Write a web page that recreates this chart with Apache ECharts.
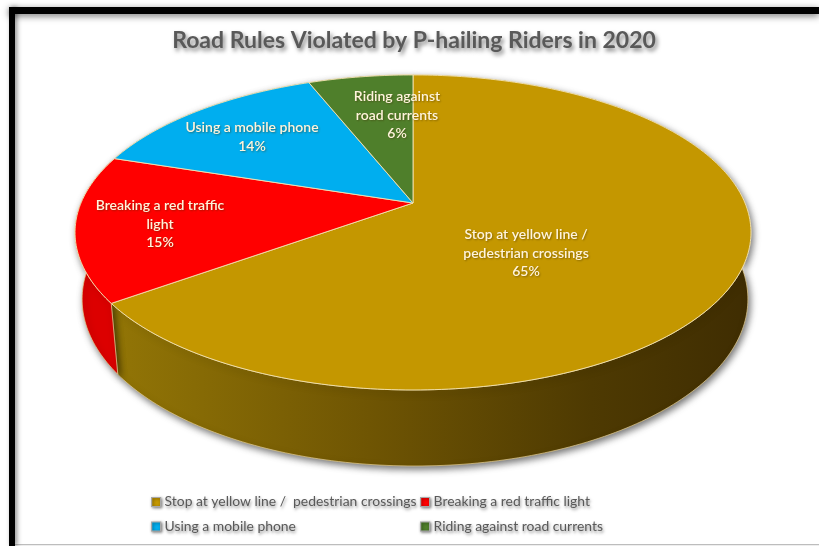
<!DOCTYPE html>
<html>
<head>
<meta charset="utf-8">
<style>html,body{margin:0;padding:0;background:#fff}#chart{width:819px;height:546px}</style>
<script src="https://cdn.jsdelivr.net/npm/echarts@6/dist/echarts.min.js"></script>
</head>
<body>
<div id="chart"></div>
<script>
// Violation shares, clockwise from twelve o'clock
const categories = ['Stop at yellow line /  pedestrian crossings', 'Breaking a red traffic light', 'Using a mobile phone', 'Riding against road currents'];
const shares = [65, 15, 14, 6];
const labelLines = [
  ['Stop at yellow line /', 'pedestrian crossings'],
  ['Breaking a red traffic', 'light'],
  ['Using a mobile phone'],
  ['Riding against', 'road currents']
];

const topColors = ['#c49700', '#ff0000', '#00aeef', '#4f7f2b'];
const labelCentres = [[526, 253], [160, 224], [252, 137], [397, 115]];
const font = 'Lato, "Open Sans", sans-serif';

// Tilted disc: a unit circle projected so that its centre lands off the ellipse centre
const apex = [413, 203];
const spanX = 332, spanY = 152, perspective = -0.187;
function rim(turn) {
  const a = turn * 2 * Math.PI;
  const u = Math.sin(a), v = -Math.cos(a), w = 1 + perspective * v;
  return [apex[0] + spanX * u / w, apex[1] + spanY * v / w];
}
// Lower rim of the disc's thickness
function lower(p) {
  return [apex[0] + 2 + 0.985 * (p[0] - apex[0]), apex[1] + 65 + 1.059 * (p[1] - apex[1])];
}
function arc(from, to) {
  const n = Math.max(4, Math.ceil((to - from) * 360));
  const pts = [];
  for (let i = 0; i <= n; i++) pts.push(rim(from + (to - from) * i / n));
  return pts;
}

const total = shares.reduce((s, v) => s + v, 0);
const starts = shares.map((_, i) => shares.slice(0, i).reduce((s, v) => s + v, 0) / total);

function wallFill(index) {
  if (index === 0) {
    return new echarts.graphic.LinearGradient(115, 0, 750, 0, [
      { offset: 0, color: '#927506' },
      { offset: 0.4, color: '#6f5503' },
      { offset: 0.75, color: '#4e3a02' },
      { offset: 1, color: '#3f2d02' }
    ], true);
  }
  return ['', '#dc0000', '#0090c8', '#3c6220'][index];
}

function renderSlice(index) {
  return function (params, api) {
    const from = starts[index];
    const to = from + api.value(0) / total;
    const edge = arc(from, to);
    const wall = edge.concat(edge.map(lower).reverse());
    const centre = labelCentres[index];
    const text = labelLines[index].concat(api.value(0) + '%').join('\n');
    return {
      type: 'group',
      silent: true,
      children: [
        {
          type: 'polygon', z2: 1,
          shape: { points: wall },
          style: {
            fill: wallFill(index), stroke: '#e6cf8e', lineWidth: 0.7,
            shadowBlur: 7, shadowColor: 'rgba(0,0,0,0.55)', shadowOffsetX: 2, shadowOffsetY: 3
          }
        },
        {
          type: 'polygon', z2: 5 + index,
          shape: { points: [apex].concat(edge) },
          style: { fill: api.visual('color'), stroke: '#f3e3b4', lineWidth: 0.9 }
        },
        {
          type: 'text', z2: 20,
          x: centre[0], y: centre[1],
          style: {
            text: text, fill: '#fff4dc', font: '600 14px ' + font,
            align: 'center', verticalAlign: 'middle', lineHeight: 18.5,
            textShadowColor: 'rgba(60,40,0,0.45)', textShadowBlur: 2, textShadowOffsetX: 1, textShadowOffsetY: 1
          }
        }
      ]
    };
  };
}

const legendBase = {
  orient: 'vertical', itemWidth: 9, itemHeight: 9, itemGap: 10.5, padding: 0,
  icon: 'rect', selectedMode: false,
  itemStyle: { borderColor: '#a8a8a8', borderWidth: 1.2, shadowBlur: 3, shadowColor: 'rgba(0,0,0,0.5)', shadowOffsetX: 1, shadowOffsetY: 1 },
  textStyle: {
    color: '#595959', fontFamily: font, fontSize: 13.9, padding: [0, 0, 0, -1],
    textShadowColor: 'rgba(0,0,0,0.45)', textShadowBlur: 3, textShadowOffsetX: 1, textShadowOffsetY: 2
  }
};

const chart = echarts.init(document.getElementById('chart'), null, { renderer: 'canvas' });
chart.setOption({
  animation: false,
  backgroundColor: '#ffffff',
  title: {
    text: 'Road Rules Violated by P-hailing Riders in 2020',
    left: 414, top: 29, textAlign: 'center', padding: 0,
    textStyle: {
      color: '#595959', fontFamily: font, fontWeight: 'bold', fontSize: 23,
      textShadowColor: 'rgba(0,0,0,0.5)', textShadowBlur: 4, textShadowOffsetX: 2, textShadowOffsetY: 3
    }
  },
  legend: [
    Object.assign({}, legendBase, { left: 151, top: 495, data: [categories[0], categories[2]] }),
    Object.assign({}, legendBase, { left: 420, top: 495, data: [categories[1], categories[3]] })
  ],
  // Chart-area frame: heavy top and left rules with a soft inner shadow
  graphic: [
    { type: 'rect', silent: true, z: 50, shape: { x: 15, y: 544, width: 804, height: 1.2 }, style: { fill: '#bdbdbd' } },
    { type: 'rect', silent: true, z: 50, shape: { x: 9, y: 7, width: 810, height: 7 },
      style: { fill: '#000', shadowBlur: 7, shadowColor: 'rgba(0,0,0,0.55)', shadowOffsetY: 2 } },
    { type: 'rect', silent: true, z: 50, shape: { x: 9, y: 7, width: 6, height: 539 },
      style: { fill: '#000', shadowBlur: 5, shadowColor: 'rgba(0,0,0,0.45)', shadowOffsetX: 2 } }
  ],
  series: categories.map((name, i) => ({
    type: 'custom',
    name: name,
    coordinateSystem: 'none',
    silent: true,
    itemStyle: { color: topColors[i] },
    renderItem: renderSlice(i),
    data: [[shares[i]]]
  }))
});
</script>
</body>
</html>
